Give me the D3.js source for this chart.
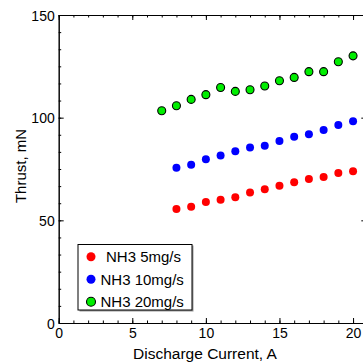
<!DOCTYPE html>
<html><head><meta charset="utf-8">
<script src="https://cdn.jsdelivr.net/npm/d3@7"></script>
<style>
html,body{margin:0;padding:0;background:#fff;}
svg{display:block;font-family:"Liberation Sans",Arial,sans-serif;}
</style></head>
<body><svg id="c" width="363" height="363"></svg>
<script>
const current5 = [8,9,10,11,12,13,14,15,16,17,18,19,20];
const thrust5 = [55.5,56.6,58.9,60.0,61.3,63.6,65.1,66.8,68.5,70.1,71.1,73.0,73.9];
const current10 = [8,9,10,11,12,13,14,15,16,17,18,19,20];
const thrust10 = [75.6,77.1,79.7,81.6,83.6,85.5,86.3,88.6,90.7,91.9,94.0,96.4,98.2];
const current20 = [7,8,9,10,11,12,13,14,15,16,17,18,19,20];
const thrust20 = [103.4,105.8,108.9,111.2,114.7,112.8,113.6,115.4,118.0,119.6,122.4,122.4,127.2,130.1];
const seriesNames = ["NH3 5mg/s","NH3 10mg/s","NH3 20mg/s"];
const seriesColors = ["#ff0000","#0000ff","#00ee00"];
const xMajor = [0,5,10,15,20];
const xMinor = d3.range(0,21,1);
const yMajor = [0,50,100,150];
const yMinor = d3.range(0,151,50/6);

const svg = d3.select("#c");
const L=58.7, R=366.3, T=15, B=323;
const x = d3.scaleLinear().domain([0,20.9]).range([L,R]);
const y = d3.scaleLinear().domain([0,150]).range([B,T]);

function styleAxis(g){
  g.select(".domain").attr("stroke","#000").attr("stroke-width",1);
  g.selectAll(".tick line").attr("stroke","#000").attr("stroke-width",1);
  g.selectAll(".tick text").attr("fill","#000").attr("font-size","14px")
   .attr("font-family","'Liberation Sans',Arial,sans-serif");
}
// bottom
svg.append("g").attr("transform",`translate(0,${B})`)
  .call(d3.axisBottom(x).tickValues(xMinor).tickSize(-2.5).tickFormat("").tickSizeOuter(0)).call(styleAxis);
svg.append("g").attr("transform",`translate(0,${B})`)
  .call(d3.axisBottom(x).tickValues(xMajor).tickSize(-5).tickPadding(5).tickFormat(d3.format("d")).tickSizeOuter(0)).call(styleAxis);
// top
svg.append("g").attr("transform",`translate(0,${T})`)
  .call(d3.axisTop(x).tickValues(xMinor).tickSize(-2.5).tickFormat("").tickSizeOuter(0)).call(styleAxis);
svg.append("g").attr("transform",`translate(0,${T})`)
  .call(d3.axisTop(x).tickValues(xMajor).tickSize(-5).tickFormat("").tickSizeOuter(0)).call(styleAxis);
// left
svg.append("g").attr("transform",`translate(${L},0)`)
  .call(d3.axisLeft(y).tickValues(yMinor).tickSize(-2.5).tickFormat("").tickSizeOuter(0)).call(styleAxis);
svg.append("g").attr("transform",`translate(${L},0)`)
  .call(d3.axisLeft(y).tickValues(yMajor).tickSize(-5).tickPadding(4).tickFormat(d3.format("d")).tickSizeOuter(0)).call(styleAxis)
  .selectAll(".tick text").attr("dy","0.36em");
// right
svg.append("g").attr("transform",`translate(${R},0)`)
  .call(d3.axisRight(y).tickValues(yMinor).tickSize(-2.5).tickFormat("").tickSizeOuter(0)).call(styleAxis);
svg.append("g").attr("transform",`translate(${R},0)`)
  .call(d3.axisRight(y).tickValues(yMajor).tickSize(-5).tickFormat("").tickSizeOuter(0)).call(styleAxis);

// titles
svg.append("text").attr("x",205).attr("y",359).attr("text-anchor","middle")
  .attr("font-size","15.5px").attr("fill","#000").text("Discharge Current, A");
svg.append("text").attr("transform","translate(26,166) rotate(-90)").attr("text-anchor","middle")
  .attr("font-size","15px").attr("fill","#000").text("Thrust, mN");

// data
const sets = [
  {xs:current5, ys:thrust5, color:seriesColors[0], stroke:false},
  {xs:current10, ys:thrust10, color:seriesColors[1], stroke:false},
  {xs:current20, ys:thrust20, color:seriesColors[2], stroke:true}
];
sets.forEach(s=>{
  svg.append("g").selectAll("circle").data(s.xs.map((v,i)=>[v,s.ys[i]])).join("circle")
    .attr("cx",d=>x(d[0])).attr("cy",d=>y(d[1]))
    .attr("r", s.stroke?4:4)
    .attr("fill",s.color)
    .attr("stroke", s.stroke?"#000":"none").attr("stroke-width",1.1);
});

// legend
const lg = svg.append("g");
lg.append("rect").attr("x",79.5).attr("y",245.5).attr("width",114).attr("height",66).attr("fill","#999");
lg.append("rect").attr("x",78).attr("y",244.5).attr("width",114).attr("height",65.5)
  .attr("fill","#fff").attr("stroke","#000").attr("stroke-width",1);
const lgRows = [{cy:256.7, tx:106}, {cy:279.3, tx:100.5}, {cy:301.7, tx:100.5}];
seriesNames.forEach((n,i)=>{
  lg.append("circle").attr("cx",91).attr("cy",lgRows[i].cy).attr("r",4.5)
    .attr("fill",seriesColors[i]).attr("stroke",i===2?"#000":"none").attr("stroke-width",1.1);
  lg.append("text").attr("x",lgRows[i].tx).attr("y",lgRows[i].cy+5.5)
    .attr("font-size","15px").attr("fill","#000").text(n);
});
</script></body></html>
